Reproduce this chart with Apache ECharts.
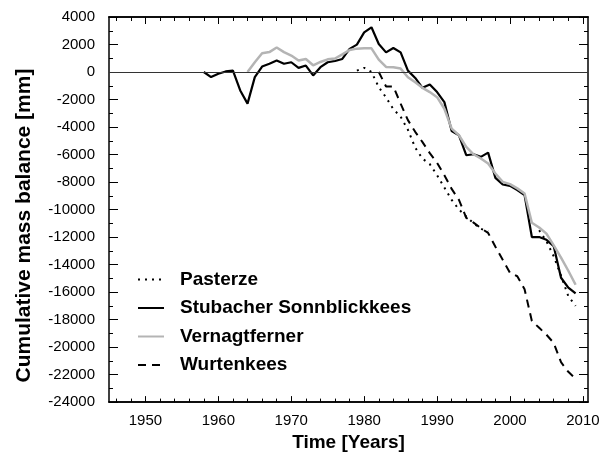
<!DOCTYPE html>
<html>
<head>
<meta charset="utf-8">
<script src="https://cdn.jsdelivr.net/npm/echarts@6/dist/echarts.min.js"></script>
<style>
html,body{margin:0;padding:0;background:#fff}
#chart{width:609px;height:457px}
</style>
</head>
<body>
<div id="chart"></div>
<script>
// years shared by all series, one value per year (null = no data)
const years = [1958,1959,1960,1961,1962,1963,1964,1965,1966,1967,
  1968,1969,1970,1971,1972,1973,1974,1975,1976,1977,
  1978,1979,1980,1981,1982,1983,1984,1985,1986,1987,
  1988,1989,1990,1991,1992,1993,1994,1995,1996,1997,
  1998,1999,2000,2001,2002,2003,2004,2005,2006,2007,
  2008,2009];

const pasterze = [null,null,null,null,null,null,null,null,null,null,
  null,null,null,null,null,null,null,null,null,null,
  null,100,300,0,-1100,-1850,-2700,-3250,-4200,-5500,
  -6300,-6700,-7500,-8400,-9300,-10000,-10500,-11000,-11400,-11600,
  null,null,null,null,null,null,-11500,-12300,-13400,-14800,
  -16300,-17000];

const sonnblick = [0,-370,-130,40,100,-1340,-2300,-370,400,600,
  830,600,710,300,470,-250,350,710,800,950,
  1680,1990,2880,3250,2040,1430,1750,1430,100,-430,
  -1150,-900,-1460,-2190,-4290,-4600,-6050,-5980,-6170,-5860,
  -7700,-8180,-8280,-8580,-8950,-12000,-12000,-12200,-12670,-14960,
  -15680,-16100];

const vernagt = [null,null,null,null,null,null,0,710,1360,1450,
  1780,1450,1200,840,950,490,730,920,980,1280,
  1600,1700,1730,1720,900,370,350,250,-380,-740,
  -1150,-1460,-1830,-2670,-4120,-4600,-5450,-5980,-6290,-6650,
  -7380,-7990,-8150,-8460,-8830,-10960,-11300,-11750,-12600,-13500,
  -14450,-15470];

const wurten = [null,null,null,null,null,null,null,null,null,null,
  null,null,null,null,null,null,null,null,null,null,
  null,null,null,null,0,-1050,-1050,-2300,-3500,-4350,
  -5100,-5900,-6600,-7500,-8500,-9300,-10600,-10950,-11350,-11700,
  -12700,-13650,-14600,-14850,-15800,-18100,-18600,-19100,-19700,-21100,
  -21800,-22300];

const seriesNames = ['Pasterze', 'Stubacher Sonnblickkees', 'Vernagtferner', 'Wurtenkees'];
const xMajorTicks = [1950, 1960, 1970, 1980, 1990, 2000, 2010];
const xMinorTicks = [1946,1948,1952,1954,1956,1958,1962,1964,1966,1968,1972,1974,1976,1978,
  1982,1984,1986,1988,1992,1994,1996,1998,2002,2004,2006,2008];

const font = 'Liberation Sans, Arial, Helvetica, sans-serif';

function pairs(vals) {
  return years.map((y, i) => [y, vals[i] === null ? '-' : vals[i]]);
}

function xAxisDef(pos, ticks, len, labels) {
  return {
    type: 'value', position: pos, min: 1945, max: 2010.7,
    axisLine: { show: true, onZero: false, lineStyle: { color: '#000', width: 1.5 } },
    axisTick: { show: true, inside: true, length: len, customValues: ticks, lineStyle: { color: '#000', width: 1 } },
    axisLabel: labels ? { show: true, customValues: ticks, margin: 11, color: '#000', fontSize: 15, fontFamily: font,
      formatter: v => String(v) } : { show: false },
    splitLine: { show: false },
    name: labels ? 'Time [Years]' : '',
    nameLocation: 'middle', nameGap: 30,
    nameTextStyle: { color: '#000', fontSize: 19, fontWeight: 'bold', fontFamily: font }
  };
}

function yAxisDef(pos, labels) {
  return {
    type: 'value', position: pos, min: -24000, max: 4000, interval: 2000,
    axisLine: { show: true, onZero: false, lineStyle: { color: '#000', width: 1.5 } },
    axisTick: { show: true, inside: true, length: 9, lineStyle: { color: '#000', width: 1 } },
    minorTick: { show: true, splitNumber: 2, length: 4, lineStyle: { color: '#000', width: 1 } },
    axisLabel: labels ? { show: true, margin: 14, color: '#000', fontSize: 15, fontFamily: font,
      formatter: v => String(v) } : { show: false },
    splitLine: { show: false },
    name: labels ? 'Cumulative mass balance [mm]' : '',
    nameLocation: 'middle', nameGap: 74,
    // title sits a bit below the middle of the axis in the original
    nameTextStyle: { color: '#000', fontSize: 21, fontWeight: 'bold', fontFamily: font, padding: [0, 32, 0, 0] }
  };
}

const chart = echarts.init(document.getElementById('chart'));
chart.setOption({
  animation: false,
  backgroundColor: '#fff',
  grid: { left: 109, right: 21, top: 17, bottom: 54 },
  legend: {
    orient: 'vertical', left: 132, top: 265,
    itemWidth: 26, itemHeight: 14, itemGap: 9.5,
    data: seriesNames,
    itemStyle: { opacity: 0 },
    textStyle: { color: '#000', fontSize: 19, fontWeight: 'bold', fontFamily: font, lineHeight: 19, padding: [0, 0, 0, 11] }
  },
  xAxis: [
    xAxisDef('bottom', xMajorTicks, 6, true),
    xAxisDef('bottom', xMinorTicks, 3.5, false),
    xAxisDef('top', xMajorTicks, 7, false),
    xAxisDef('top', xMinorTicks, 4, false)
  ],
  yAxis: [yAxisDef('left', true), yAxisDef('right', false)],
  series: [
    {
      name: seriesNames[0], type: 'line', symbol: 'none', data: pairs(pasterze),
      lineStyle: { color: '#000', width: 2, type: [2, 5] }, itemStyle: { color: '#000' },
      markLine: {
        silent: true, symbol: 'none', label: { show: false },
        lineStyle: { color: '#333', width: 1, type: 'solid' },
        data: [{ yAxis: 0 }]
      }
    },
    {
      name: seriesNames[1], type: 'line', symbol: 'none', data: pairs(sonnblick),
      lineStyle: { color: '#000', width: 2.2 }, itemStyle: { color: '#000' }
    },
    {
      name: seriesNames[2], type: 'line', symbol: 'none', data: pairs(vernagt),
      lineStyle: { color: '#b4b4b4', width: 2.5 }, itemStyle: { color: '#b4b4b4' }
    },
    {
      name: seriesNames[3], type: 'line', symbol: 'none', data: pairs(wurten),
      lineStyle: { color: '#000', width: 2, type: [8, 6] }, itemStyle: { color: '#000' }
    }
  ]
});
</script>
</body>
</html>
